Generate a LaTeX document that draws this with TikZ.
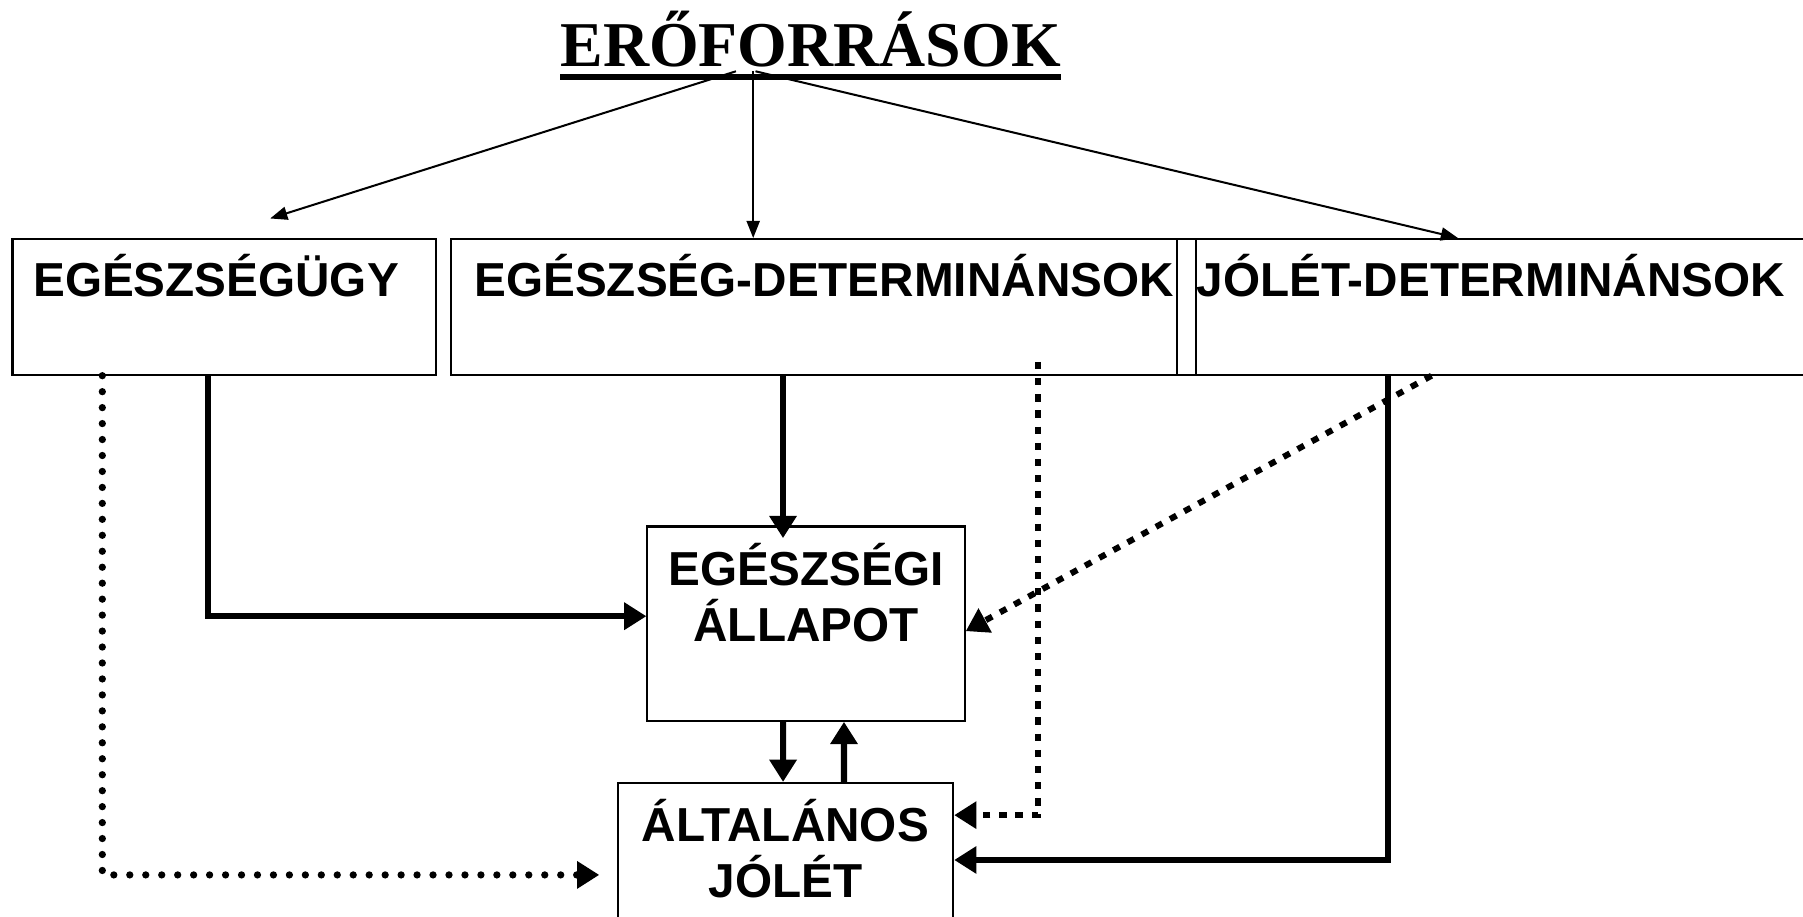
\documentclass[tikz,border=0pt]{standalone}
\usepackage{fontspec}
\setmainfont{Liberation Sans}
\newfontfamily\titlefont{Liberation Serif}
\usetikzlibrary{arrows.meta}
\newcommand{\boxfont}{\bfseries\fontsize{23.6}{27.9}\selectfont}
\tikzset{
  box/.style={draw, line width=1pt, inner ysep=0pt, font=\boxfont},
  thinarr/.style={line width=1pt, -{Triangle[length=8.5pt,width=6.5pt]}},
  thickarr/.style={line width=3pt, -{Triangle[length=11pt,width=13pt]}},
  sqdots/.style={line width=3pt, dash pattern=on 3.6pt off 4.4pt, -{Triangle[length=11pt,width=13pt]}},
  rddots/.style={line width=3.6pt, line cap=round, dash pattern=on 0pt off 7.9pt, -{Triangle[length=11pt,width=13pt]}}
}
\begin{document}
\begin{tikzpicture}[x=0.02cm, y=-0.02cm]
  \useasboundingbox (0,0) rectangle (1568,797);
  \clip (0,0) rectangle (1568,797);
  %Titel
  \node[font=\titlefont\bfseries\fontsize{31.6}{36}\selectfont, inner sep=0pt, anchor=base] (title) at (705,58) {ERŐFORRÁSOK};
  \draw[line width=0.1cm] ([yshift=-0.18cm]title.base west) -- ([yshift=-0.18cm]title.base east);
  %Obere Kaesten
  \node[box, anchor=north west, text height=1cm, text depth=1.36cm, text width=6.64cm, inner xsep=0.36cm, align=left] (hc) at (10,207) {EGÉSZSÉGÜGY};
  \node[box, anchor=north west, text height=1cm, text depth=1.36cm, text width=12.52cm, inner xsep=0.06cm, align=right] (hd) at (391,207) {EGÉSZSÉG-DETERMINÁNSOK};
  \node[draw, line width=1pt, anchor=north west, inner sep=0pt, minimum width=0.32cm, minimum height=2.36cm] (strip) at (1023,207) {};
  \node[box, anchor=north west, text height=1cm, text depth=1.36cm, text width=11.18cm, inner xsep=0.02cm, align=left] (jd) at (1039,207) {JÓLÉT-DETERMINÁNSOK};
  %Mitte
  \node[box, anchor=north, text width=5.52cm, inner xsep=0pt, align=center] (state) at (701,457)
    {\rule{0pt}{1.02cm}EGÉSZSÉGI\\ÁLLAPOT\rule[-1.38cm]{0pt}{1.38cm}};
  \node[box, anchor=north, text width=5.84cm, inner xsep=0pt, align=center] (welfare) at (683,680)
    {\rule{0pt}{1.02cm}ÁLTALÁNOS\\JÓLÉT\rule[-0.68cm]{0pt}{0.68cm}};
  %Pfeile vom Titel
  \coordinate (src) at ([xshift=-1cm,yshift=-0.08cm]title.base);
  \draw[thinarr] ([xshift=-0.3cm]src) -- ([xshift=4.5cm,yshift=0.34cm]hc.north west);
  \draw[thinarr] (src) -- (src |- hd.north);
  \draw[thinarr] ([xshift=0.04cm]src) -- ([xshift=4.58cm]jd.north west);
  %Verbindungen
  \coordinate (hdout) at ([xshift=5.8cm]hd.south west);
  \draw[thickarr] ([xshift=3.42cm]hc.south west) |- ([yshift=0.13cm]state.west);
  \draw[thickarr, shorten >=-0.22cm] (hdout) -- (hdout |- state.north);
  \draw[thickarr] ([xshift=-0.4cm]state.south) -- ([xshift=-0.04cm]welfare.north);
  \draw[thickarr] ([xshift=1.02cm]welfare.north) -- ([xshift=0.66cm]state.south);
  \draw[thickarr] ([xshift=3.36cm]jd.south west) |- (welfare.east);
  %Gepunktet
  \draw[sqdots] ([xshift=10.24cm,yshift=0.24cm]hd.south west) |- ([yshift=0.78cm]welfare.east);
  \draw[sqdots] ([xshift=4.12cm]jd.south west) -- ([yshift=-0.13cm]state.east);
  \draw[rddots, shorten >=0.3cm] ([xshift=1.58cm]hc.south west) |- ([yshift=-0.26cm]welfare.west);
\end{tikzpicture}
\end{document}
